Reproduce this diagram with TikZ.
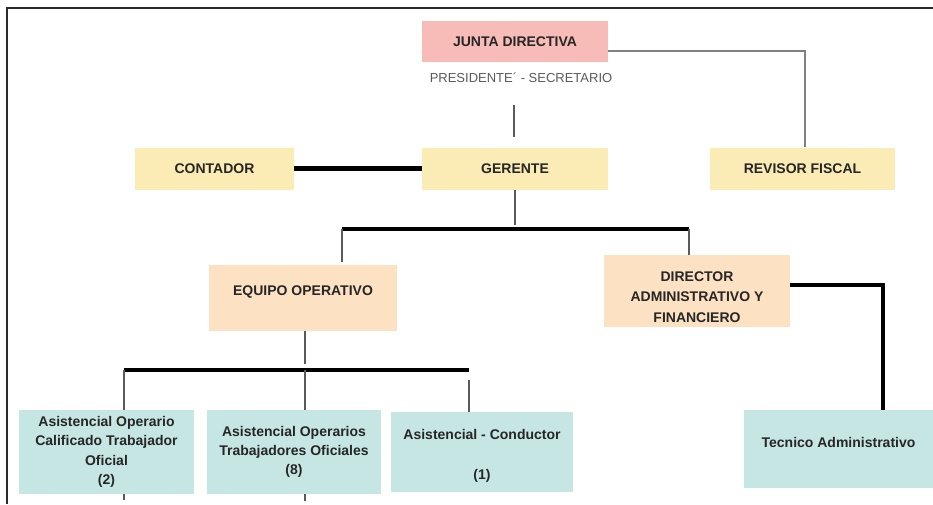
\documentclass[tikz,border=0pt]{standalone}
\usepackage{fontspec}
\setmainfont{Liberation Sans}
\usetikzlibrary{backgrounds}
\definecolor{pinkfill}{HTML}{F8BCB8}
\definecolor{yellowfill}{HTML}{FBEBB4}
\definecolor{peachfill}{HTML}{FCE1C3}
\definecolor{tealfill}{HTML}{C6E6E4}
\definecolor{txt}{HTML}{262626}
\definecolor{thinc}{HTML}{5A5A5A}
\definecolor{framec}{HTML}{2A2A2A}
\begin{document}
\begin{tikzpicture}[x=1pt,y=-1pt,
  box/.style={inner sep=0pt, align=center, text=txt, font=\bfseries\fontsize{14}{20}\selectfont},
  lbl/.style={align=center, text=txt, font=\bfseries\fontsize{14}{20.5}\selectfont},
  thinline/.style={draw=thinc, line width=1.2pt},
  thickline/.style={draw=black, line width=4.5pt},
]
\useasboundingbox (0,0) rectangle (933,504);
\draw[framec, line width=2pt] (7,504) -- (7,8) -- (933,8);

% boxes
\node[box, fill=pinkfill, minimum width=186pt, minimum height=41pt] (junta) at (515,41.5) {JUNTA DIRECTIVA};
\node[inner sep=0pt, text=thinc, font=\fontsize{13}{16}\selectfont] (pres) at (521,78) {PRESIDENTE´ - SECRETARIO};
\node[box, fill=yellowfill, minimum width=159pt, minimum height=42pt] (contador) at (214.5,168.5) {CONTADOR};
\node[box, fill=yellowfill, minimum width=186pt, minimum height=42pt] (gerente) at (515,168.5) {GERENTE};
\node[box, fill=yellowfill, minimum width=185pt, minimum height=42pt] (revisor) at (802.5,168.5) {REVISOR FISCAL};
\node[box, fill=peachfill, minimum width=188pt, minimum height=66pt,
  label={[lbl,yshift=6pt]center:EQUIPO OPERATIVO}] (equipo) at (303,298) {};
\node[box, fill=peachfill, minimum width=186pt, minimum height=72pt,
  label={[lbl,yshift=-6pt]center:DIRECTOR\\ADMINISTRATIVO Y\\FINANCIERO}] (director) at (697,291) {};
\node[box, fill=tealfill, minimum width=175pt, minimum height=84pt, font=\bfseries\fontsize{14}{19.5}\selectfont] (op1) at (106.5,452) {Asistencial Operario\\Calificado Trabajador\\Oficial\\(2)};
\node[box, fill=tealfill, minimum width=174pt, minimum height=84pt, font=\bfseries\fontsize{14}{19}\selectfont] (op2) at (294,452) {Asistencial Operarios\\Trabajadores Oficiales\\(8)};
\node[box, fill=tealfill, minimum width=182pt, minimum height=80pt,
  label={[lbl,yshift=-4pt]center:Asistencial - Conductor\\[20pt](1)}] (cond) at (482,452) {};
\node[box, fill=tealfill, minimum width=189pt, minimum height=78pt,
  label={[lbl,yshift=7pt]center:Tecnico Administrativo}] (tecnico) at (838.5,449) {};

% coordinates
\coordinate (juntaR) at (608,51);
\coordinate (presB) at (514,105);
\coordinate (busA) at (342,229);
\coordinate (busB) at (689,229);
\coordinate (busM) at (515,229);
\coordinate (dirR) at (790,285);
\coordinate (tecT) at (883,410);
\coordinate (busC) at (124,370);
\coordinate (busD) at (469,370);
\coordinate (busE) at (305,370);
\coordinate (condT) at (469,380);

\begin{pgfonlayer}{background}
\draw[thinline, draw=gray] (juntaR) -| ([xshift=2.5pt]revisor.north);
\draw[thinline, shorten >=10pt] (presB) -- (presB |- gerente.north);
\draw[thickline] (contador.east) -- (gerente.west);
\draw[thinline, shorten >=4pt] (gerente.south) -- (busM);
\draw[thickline] (busA) -- (busB);
\draw[thinline, shorten >=3pt] (busA) -- (busA |- equipo.north);
\draw[thinline] (busB) -- (busB |- director.north);
\draw[thickline] (dirR) -| (tecT);
\draw[thinline, shorten >=6pt] ([xshift=2pt]equipo.south) -- (busE);
\draw[thickline] (busC) -- (busD);
\draw[thinline] (busC) -- (busC |- 0,500);
\draw[thinline] (busE) -- (busE |- 0,501);
\draw[thinline] (condT) -- (condT |- cond.north);
\end{pgfonlayer}
\end{tikzpicture}
\end{document}
